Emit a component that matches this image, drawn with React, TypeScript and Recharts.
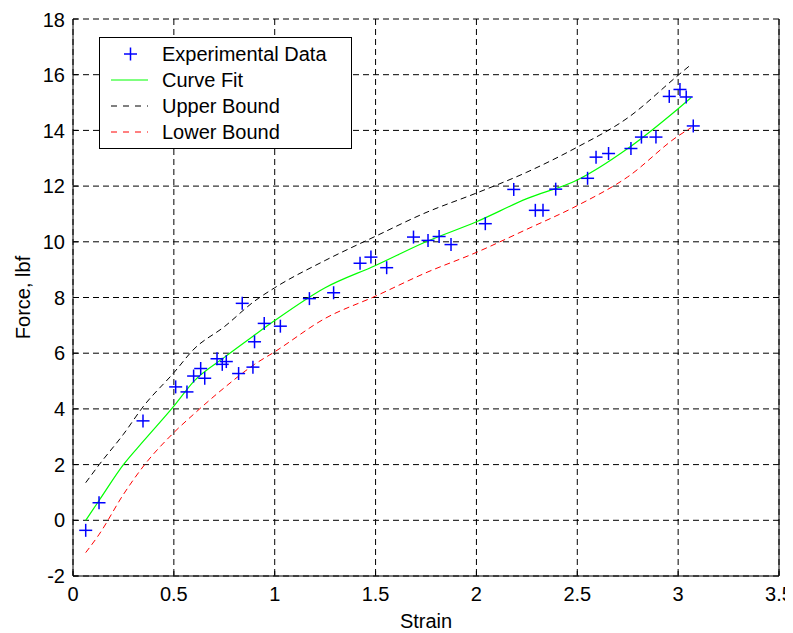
import React from "react";
import {
  ComposedChart,
  Line,
  Scatter,
  XAxis,
  YAxis,
  CartesianGrid,
  Legend,
  Label,
} from "recharts";

// Experimental data (strain, force)
const expStrain = [
  0.063, 0.129, 0.347, 0.509, 0.565, 0.598, 0.633, 0.653, 0.714, 0.74, 0.76,
  0.821, 0.839, 0.892, 0.9, 0.948, 1.028, 1.172, 1.292, 1.423, 1.477, 1.555,
  1.688, 1.76, 1.815, 1.874, 2.044, 2.185, 2.292, 2.33, 2.393, 2.551, 2.593,
  2.655, 2.766, 2.818, 2.89, 2.956, 3.009, 3.04, 3.075,
];
const expForce = [
  -0.36, 0.63, 3.57, 4.79, 4.61, 5.18, 5.45, 5.1, 5.8, 5.6, 5.7, 5.27, 7.79,
  5.5, 6.41, 7.07, 6.97, 7.96, 8.17, 9.23, 9.45, 9.07, 10.17, 10.05, 10.19, 9.9,
  10.65, 11.88, 11.13, 11.13, 11.89, 12.28, 13.04, 13.17, 13.35, 13.76, 13.76,
  15.22, 15.47, 15.2, 14.16,
];

// Fitted curves
const fitStrain = [
  0.063, 0.13, 0.25, 0.35, 0.5, 0.6, 0.75, 0.9, 1.0, 1.25, 1.5, 1.75, 2.0, 2.25,
  2.5, 2.75, 3.0, 3.065,
];
const curveFit = [
  0, 0.72, 2.0, 2.85, 4.1, 5.0, 5.85, 6.65, 7.17, 8.35, 9.15, 10.0, 10.72, 11.55,
  12.22, 13.35, 14.78, 15.18,
];
const upperBound = [
  1.35, 2.0, 3.09, 4.1, 5.3, 6.15, 6.95, 7.87, 8.35, 9.33, 10.2, 11.05, 11.75,
  12.5, 13.4, 14.45, 15.98, 16.37,
];
const lowerBound = [
  -1.16, -0.5, 0.93, 1.95, 3.15, 3.82, 4.76, 5.6, 6.05, 7.25, 8.05, 8.89, 9.62,
  10.45, 11.3, 12.33, 13.8, 14.1,
];

const xTicks = [0, 0.5, 1, 1.5, 2, 2.5, 3, 3.5];
const yTicks = [-2, 0, 2, 4, 6, 8, 10, 12, 14, 16, 18];

const expData = expStrain.map((x, i) => ({ x, y: expForce[i] }));
const fitData = fitStrain.map((x, i) => ({ x, y: curveFit[i] }));
const upperData = fitStrain.map((x, i) => ({ x, y: upperBound[i] }));
const lowerData = fitStrain.map((x, i) => ({ x, y: lowerBound[i] }));

const FONT = "Arial, 'Liberation Sans', sans-serif";
const BLUE = "#0000ff";
const GREEN = "#00ff00";
const RED = "#ff0000";

const CrossShape = (props: any) => {
  const { cx, cy } = props;
  if (cx == null || cy == null) return null;
  const h = 6.5;
  return (
    <g>
      <line x1={cx - h} y1={cy} x2={cx + h} y2={cy} stroke={BLUE} strokeWidth={1.5} />
      <line x1={cx} y1={cy - h} x2={cx} y2={cy + h} stroke={BLUE} strokeWidth={1.5} />
    </g>
  );
};

const legendItems = [
  { label: "Experimental Data", kind: "cross", color: BLUE },
  { label: "Curve Fit", kind: "solid", color: GREEN },
  { label: "Upper Bound", kind: "dash", color: "#000000" },
  { label: "Lower Bound", kind: "dash", color: RED },
];

const LegendBox = () => (
  <div
    style={{
      width: 253,
      height: 112,
      boxSizing: "border-box",
      border: "1px solid #000",
      background: "#fff",
      paddingTop: 3,
      fontFamily: FONT,
      fontSize: 20,
      color: "#000",
    }}
  >
    {legendItems.map((it) => (
      <div
        key={it.label}
        style={{ height: 26, display: "flex", alignItems: "center", position: "relative" }}
      >
        <svg width={50} height={26} style={{ position: "absolute", left: 5, top: 0 }}>
          {it.kind === "cross" ? (
            <g>
              <line x1={19} y1={13} x2={32} y2={13} stroke={it.color} strokeWidth={1.5} />
              <line x1={25.5} y1={6.5} x2={25.5} y2={19.5} stroke={it.color} strokeWidth={1.5} />
            </g>
          ) : (
            <line
              x1={6}
              y1={13}
              x2={43}
              y2={13}
              stroke={it.color}
              strokeWidth={1}
              strokeDasharray={it.kind === "dash" ? "6 6" : undefined}
            />
          )}
        </svg>
        <span style={{ position: "absolute", left: 62, lineHeight: "26px", whiteSpace: "nowrap" }}>
          {it.label}
        </span>
      </div>
    ))}
  </div>
);

export default function App() {
  const tickStyle = { fontSize: 20, fontFamily: FONT, fill: "#000" };
  return (
    <ComposedChart
      width={785}
      height={625}
      margin={{ top: 11, right: 6, bottom: 0, left: 5 }}
      style={{ fontFamily: FONT }}
    >
      <CartesianGrid stroke="#000" strokeDasharray="6 4" strokeWidth={1} />
      <XAxis
        dataKey="x"
        type="number"
        domain={[0, 3.5]}
        ticks={xTicks}
        allowDataOverflow
        height={57}
        stroke="#000"
        tickSize={-5}
        tickMargin={16}
        tick={tickStyle}
        tickFormatter={(v: number) => String(v)}
      >
        <Label
          value="Strain"
          position="insideBottom"
          offset={5}
          style={{ fontSize: 20, fontFamily: FONT, fill: "#000" }}
        />
      </XAxis>
      <XAxis
        xAxisId="top"
        orientation="top"
        type="number"
        domain={[0, 3.5]}
        ticks={xTicks}
        allowDataOverflow
        height={0}
        stroke="#000"
        tickSize={-5}
        tick={false}
      />
      <YAxis
        type="number"
        domain={[-2, 18]}
        ticks={yTicks}
        allowDataOverflow
        width={60}
        stroke="#000"
        tickSize={-5}
        tickMargin={13}
        tick={tickStyle}
      >
        <Label
          value="Force, lbf"
          angle={-90}
          position="insideLeft"
          offset={10}
          style={{ fontSize: 20, fontFamily: FONT, fill: "#000", textAnchor: "middle" }}
        />
      </YAxis>
      <YAxis
        yAxisId="right"
        orientation="right"
        type="number"
        domain={[-2, 18]}
        ticks={yTicks}
        allowDataOverflow
        width={8}
        stroke="#000"
        tickSize={-5}
        tick={false}
      />
      <Legend
        layout="vertical"
        align="center"
        verticalAlign="middle"
        content={() => <LegendBox />}
        wrapperStyle={{ left: 91, top: 29, width: 253, height: 112, position: "absolute" }}
      />
      <Line
        data={upperData}
        dataKey="y"
        type="monotone"
        stroke="#000"
        strokeWidth={1}
        strokeDasharray="6 4"
        dot={false}
        activeDot={false}
        isAnimationActive={false}
        name="Upper Bound"
      />
      <Line
        data={lowerData}
        dataKey="y"
        type="monotone"
        stroke={RED}
        strokeWidth={1}
        strokeDasharray="6 4"
        dot={false}
        activeDot={false}
        isAnimationActive={false}
        name="Lower Bound"
      />
      <Line
        data={fitData}
        dataKey="y"
        type="monotone"
        stroke={GREEN}
        strokeWidth={1.2}
        dot={false}
        activeDot={false}
        isAnimationActive={false}
        name="Curve Fit"
      />
      <Scatter
        data={expData}
        dataKey="y"
        shape={<CrossShape />}
        isAnimationActive={false}
        name="Experimental Data"
      />
    </ComposedChart>
  );
}
